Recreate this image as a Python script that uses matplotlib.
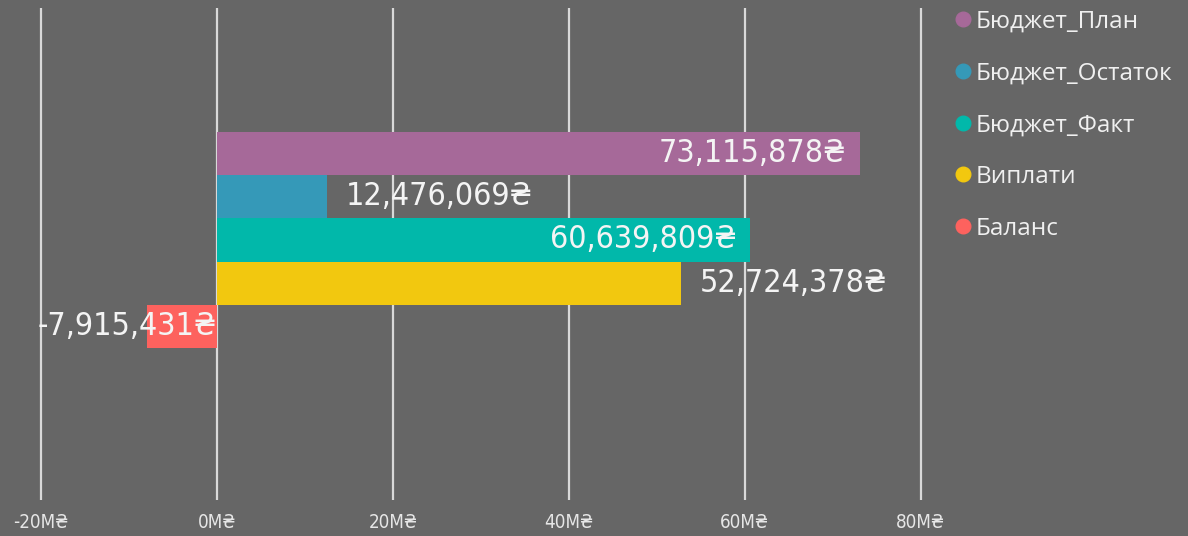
import matplotlib.pyplot as plt
from matplotlib.lines import Line2D
from matplotlib.ticker import FuncFormatter

# Дані
series = ['Бюджет_План', 'Бюджет_Остаток', 'Бюджет_Факт', 'Виплати', 'Баланс']
values = [73115878, 12476069, 60639809, 52724378, -7915431]
colors = ['#A66999', '#3599B8', '#01B8AA', '#F2C80F', '#FD625E']
label_inside = [True, False, True, False, True]

bg = '#666666'
fig = plt.figure(figsize=(11.88, 5.36), dpi=100, facecolor=bg)
ax = fig.add_axes([0, 36 / 536, 940 / 1188, 492 / 536], facecolor=bg)

pos = list(range(len(series)))
vals_m = [v / 1e6 for v in values]
ax.barh(pos, vals_m, height=1.0, color=colors, zorder=2)

ax.set_xlim(-24.67, 82.2)
ax.set_ylim(8.0, -3.35)
ax.set_xticks([-20, 0, 20, 40, 60, 80])
ax.xaxis.set_major_formatter(FuncFormatter(lambda x, p: f'{x:.0f}M₴'))
ax.set_yticks([])
ax.grid(axis='x', color='#d9d9d9', linewidth=1.6, zorder=1)
ax.tick_params(axis='x', length=0, pad=9, labelsize=13.5, labelcolor='#e6e6e6')
for lbl in ax.get_xticklabels():
    lbl.set_fontfamily('DejaVu Sans')
    lbl.set_fontstretch('condensed')
for s in ax.spines.values():
    s.set_visible(False)

# Підписи значень
for p, v, inside in zip(pos, vals_m, label_inside):
    txt = f'{values[p]:,}₴'
    if inside:
        x0 = v if v > 0 else 0
        dx = -10 if v > 0 else 0
        ax.annotate(txt, (x0, p), xytext=(dx, 0), textcoords='offset points',
                    ha='right', va='center', color='#f4f4f4', fontsize=23,
                    family='DejaVu Sans', stretch='condensed', zorder=3)
    else:
        ax.annotate(txt, (v, p), xytext=(14, 0), textcoords='offset points',
                    ha='left', va='center', color='#f4f4f4', fontsize=23,
                    family='DejaVu Sans', stretch='condensed', zorder=3)

# Легенда
handles = [Line2D([], [], marker='o', linestyle='', markersize=10.5, color=c) for c in colors]
leg = fig.legend(handles, series, loc='upper left', bbox_to_anchor=(950 / 1188, 1 - 5 / 536),
                 frameon=False, handlelength=0.7, handletextpad=0.15, labelspacing=1.14,
                 borderpad=0.2, borderaxespad=0, labelcolor='#f0f0f0',
                 prop={'family': ['Open Sans', 'DejaVu Sans'], 'size': 17.5})

fig.savefig('out.png', dpi=100, facecolor=bg)
